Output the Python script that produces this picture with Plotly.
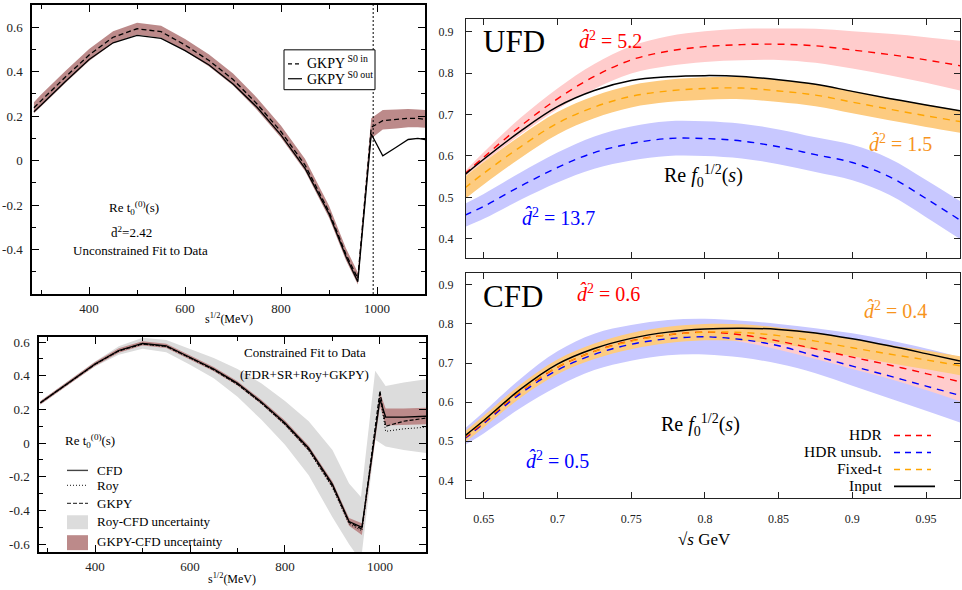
import plotly.graph_objects as go

W, H = 962, 590

# ---------------- Re t_0^(0)(s): unconstrained fit (GKPY S0 wave in / out) ----------------
tl_x = [285, 300, 350, 400, 450, 500, 550, 600, 650, 700, 750, 800, 850, 900, 935, 960,
        988, 1012, 1040, 1065, 1085, 1100]
tl_s0_in = [0.238, 0.27, 0.375, 0.475, 0.555, 0.593, 0.58, 0.52, 0.45, 0.365, 0.255, 0.13,
            -0.02, -0.23, -0.42, -0.53, 0.15, 0.18, 0.185, 0.19, 0.19, 0.185]
tl_s0_out = [0.22, 0.25, 0.355, 0.455, 0.53, 0.563, 0.55, 0.495, 0.43, 0.345, 0.24, 0.115,
             -0.035, -0.24, -0.43, -0.545, 0.12, 0.022, 0.06, 0.095, 0.10, 0.095]
tl_band_hi = [0.262, 0.297, 0.402, 0.502, 0.582, 0.62, 0.607, 0.547, 0.477, 0.392, 0.282, 0.157,
              0.007, -0.203, -0.393, -0.503, 0.19, 0.228, 0.23, 0.232, 0.23, 0.228]
tl_band_lo = [0.213, 0.243, 0.348, 0.448, 0.528, 0.566, 0.553, 0.493, 0.423, 0.338, 0.228, 0.103,
              -0.047, -0.257, -0.447, -0.557, 0.1, 0.14, 0.145, 0.15, 0.15, 0.148]
kk_threshold = 992  # 2 m_K in MeV

# ---------------- Re t_0^(0)(s): constrained fit ----------------
bl_x = [285, 300, 350, 400, 450, 500, 550, 600, 650, 700, 750, 800, 850, 900, 935, 962,
        1000, 1012, 1050, 1100]
bl_cfd = [0.24, 0.27, 0.37, 0.47, 0.55, 0.592, 0.578, 0.51, 0.44, 0.355, 0.245, 0.12,
          -0.03, -0.245, -0.465, -0.50, 0.26, 0.155, 0.155, 0.16]
bl_roy = [0.24, 0.268, 0.368, 0.467, 0.547, 0.588, 0.573, 0.505, 0.434, 0.347, 0.236, 0.108,
          -0.045, -0.265, -0.48, -0.52, 0.285, 0.07, 0.085, 0.095]
bl_gkpy = [0.24, 0.269, 0.369, 0.468, 0.548, 0.589, 0.575, 0.507, 0.436, 0.35, 0.24, 0.114,
           -0.038, -0.255, -0.47, -0.51, 0.31, 0.10, 0.13, 0.15]
bl_gkpy_hi = [0.25, 0.28, 0.38, 0.482, 0.563, 0.605, 0.59, 0.522, 0.452, 0.367, 0.258, 0.134,
              -0.015, -0.228, -0.445, -0.475, 0.3, 0.205, 0.205, 0.21]
bl_gkpy_lo = [0.23, 0.26, 0.36, 0.458, 0.537, 0.579, 0.565, 0.497, 0.427, 0.342, 0.232, 0.105,
              -0.047, -0.265, -0.49, -0.545, 0.22, 0.105, 0.108, 0.112]
bl_roy_band_x = [285, 300, 350, 400, 450, 500, 550, 600, 650, 700, 750, 800, 850, 900, 935, 960,
                 990, 1012, 1050, 1100]
bl_roy_hi = [0.25, 0.28, 0.38, 0.485, 0.575, 0.625, 0.612, 0.56, 0.505, 0.44, 0.355, 0.25,
             0.13, -0.04, -0.24, -0.32, 0.43, 0.34, 0.36, 0.38]
bl_roy_lo = [0.23, 0.258, 0.358, 0.455, 0.525, 0.56, 0.54, 0.465, 0.385, 0.275, 0.14, -0.01,
             -0.19, -0.44, -0.6, -0.70, 0.02, -0.02, -0.04, -0.06]

# ---------------- Re f_0^{1/2}(s), sqrt(s) in GeV ----------------
rs = [0.637, 0.65, 0.675, 0.70, 0.725, 0.75, 0.775, 0.80, 0.825, 0.85, 0.875, 0.90, 0.925, 0.95, 0.973]

# UFD
ufd_input = [0.554, 0.592, 0.660, 0.719, 0.758, 0.782, 0.791, 0.794, 0.792, 0.784, 0.773, 0.756, 0.739, 0.723, 0.709]
ufd_fixt = [0.522, 0.558, 0.622, 0.679, 0.718, 0.744, 0.757, 0.763, 0.764, 0.757, 0.747, 0.730, 0.713, 0.697, 0.683]
ufd_fixt_hi = [0.549, 0.585, 0.649, 0.706, 0.745, 0.771, 0.784, 0.790, 0.791, 0.784, 0.774, 0.757, 0.740, 0.724, 0.710]
ufd_fixt_lo = [0.495, 0.531, 0.595, 0.652, 0.691, 0.717, 0.730, 0.736, 0.737, 0.730, 0.720, 0.703, 0.686, 0.670, 0.656]
ufd_hdr = [0.556, 0.597, 0.672, 0.738, 0.792, 0.832, 0.853, 0.864, 0.869, 0.870, 0.866, 0.856, 0.845, 0.832, 0.818]
ufd_hdr_hi = [0.562, 0.609, 0.692, 0.763, 0.822, 0.865, 0.889, 0.901, 0.907, 0.908, 0.907, 0.901, 0.895, 0.887, 0.878]
ufd_hdr_lo = [0.550, 0.585, 0.652, 0.713, 0.762, 0.799, 0.817, 0.827, 0.831, 0.832, 0.825, 0.811, 0.795, 0.777, 0.758]
ufd_uns = [0.456, 0.478, 0.527, 0.572, 0.608, 0.630, 0.642, 0.642, 0.636, 0.622, 0.603, 0.584, 0.550, 0.497, 0.445]
ufd_uns_hi = [0.484, 0.508, 0.560, 0.608, 0.647, 0.671, 0.684, 0.684, 0.678, 0.664, 0.645, 0.627, 0.594, 0.542, 0.491]
ufd_uns_lo = [0.428, 0.448, 0.494, 0.536, 0.569, 0.589, 0.600, 0.600, 0.594, 0.580, 0.561, 0.541, 0.506, 0.452, 0.399]

# CFD
cfd_input = [0.513, 0.553, 0.633, 0.697, 0.737, 0.763, 0.779, 0.787, 0.789, 0.786, 0.777, 0.762, 0.744, 0.724, 0.705]
cfd_fixt = [0.510, 0.550, 0.628, 0.690, 0.730, 0.756, 0.772, 0.779, 0.778, 0.770, 0.756, 0.739, 0.723, 0.708, 0.693]
cfd_fixt_hi = [0.524, 0.565, 0.645, 0.709, 0.750, 0.777, 0.793, 0.800, 0.799, 0.791, 0.778, 0.761, 0.746, 0.732, 0.717]
cfd_fixt_lo = [0.496, 0.535, 0.611, 0.671, 0.710, 0.735, 0.751, 0.758, 0.757, 0.749, 0.734, 0.717, 0.700, 0.684, 0.669]
cfd_hdr = [0.508, 0.548, 0.627, 0.689, 0.730, 0.757, 0.772, 0.779, 0.772, 0.756, 0.736, 0.715, 0.695, 0.673, 0.652]
cfd_hdr_hi = [0.516, 0.557, 0.637, 0.700, 0.742, 0.770, 0.786, 0.794, 0.790, 0.778, 0.762, 0.745, 0.730, 0.715, 0.702]
cfd_hdr_lo = [0.500, 0.539, 0.617, 0.678, 0.718, 0.744, 0.758, 0.764, 0.754, 0.734, 0.710, 0.685, 0.660, 0.631, 0.602]
cfd_uns = [0.506, 0.545, 0.622, 0.682, 0.722, 0.748, 0.762, 0.767, 0.760, 0.744, 0.718, 0.692, 0.667, 0.641, 0.617]
cfd_uns_hi = [0.532, 0.575, 0.660, 0.730, 0.775, 0.797, 0.810, 0.813, 0.808, 0.800, 0.789, 0.776, 0.758, 0.737, 0.715]
cfd_uns_lo = [0.490, 0.520, 0.585, 0.640, 0.682, 0.706, 0.720, 0.722, 0.714, 0.698, 0.674, 0.642, 0.610, 0.578, 0.548]

# ---------------- styling ----------------
SERIF = "Liberation Serif"
BROWN = "#bc8a8a"
GREY = "#dcdcdc"
PINK = "#ffcccc"
ORANGE_BAND = "#fdcb80"
BLUE_BAND = "#c8c8ff"
RED = "#ff0000"
BLUE = "#0000ff"
ORANGE = "#ffa500"
ORANGE_TXT = "#f7941d"

fig = go.Figure()


def band(x, lo, hi, color, xa, ya, shape="linear"):
    fig.add_trace(go.Scatter(x=x, y=lo, mode="lines", line=dict(width=0, shape=shape),
                             xaxis=xa, yaxis=ya, showlegend=False, hoverinfo="skip"))
    fig.add_trace(go.Scatter(x=x, y=hi, mode="lines", line=dict(width=0, shape=shape),
                             fill="tonexty", fillcolor=color, xaxis=xa, yaxis=ya,
                             showlegend=False, hoverinfo="skip"))


def curve(x, y, color, dash, width, xa, ya, shape="linear"):
    fig.add_trace(go.Scatter(x=x, y=y, mode="lines",
                             line=dict(color=color, dash=dash, width=width, shape=shape),
                             xaxis=xa, yaxis=ya, showlegend=False, hoverinfo="skip"))


# top-left
band(tl_x, tl_band_lo, tl_band_hi, BROWN, "x", "y")
curve(tl_x, tl_s0_out, "black", "solid", 1.3, "x", "y")
curve(tl_x, tl_s0_in, "black", "5px,3px", 1.3, "x", "y")

# bottom-left
band(bl_roy_band_x, bl_roy_lo, bl_roy_hi, GREY, "x2", "y2")
band(bl_x, bl_gkpy_lo, bl_gkpy_hi, BROWN, "x2", "y2")
curve(bl_x, bl_roy, "black", "1px,2px", 1.0, "x2", "y2")
curve(bl_x, bl_gkpy, "black", "4px,2px", 1.2, "x2", "y2")
curve(bl_x, bl_cfd, "black", "solid", 1.3, "x2", "y2")

# top-right (UFD)
band(rs, ufd_hdr_lo, ufd_hdr_hi, PINK, "x3", "y3", "spline")
band(rs, ufd_fixt_lo, ufd_fixt_hi, ORANGE_BAND, "x3", "y3", "spline")
band(rs, ufd_uns_lo, ufd_uns_hi, BLUE_BAND, "x3", "y3", "spline")
curve(rs, ufd_hdr, RED, "7px,6px", 1.4, "x3", "y3", "spline")
curve(rs, ufd_fixt, ORANGE, "7px,6px", 1.4, "x3", "y3", "spline")
curve(rs, ufd_uns, BLUE, "7px,6px", 1.4, "x3", "y3", "spline")
curve(rs, ufd_input, "black", "solid", 1.5, "x3", "y3", "spline")

# bottom-right (CFD)
band(rs, cfd_uns_lo, cfd_uns_hi, BLUE_BAND, "x4", "y4", "spline")
band(rs, cfd_hdr_lo, cfd_hdr_hi, PINK, "x4", "y4", "spline")
band(rs, cfd_fixt_lo, cfd_fixt_hi, ORANGE_BAND, "x4", "y4", "spline")
curve(rs, cfd_uns, BLUE, "7px,6px", 1.4, "x4", "y4", "spline")
curve(rs, cfd_hdr, RED, "7px,6px", 1.4, "x4", "y4", "spline")
curve(rs, cfd_fixt, ORANGE, "7px,6px", 1.4, "x4", "y4", "spline")
curve(rs, cfd_input, "black", "solid", 1.5, "x4", "y4", "spline")


def dom_x(a, b):
    return [a / W, b / W]


def dom_y(top, bottom):
    return [1 - bottom / H, 1 - top / H]


left_tick_font = dict(family=SERIF, size=13, color="#222")
right_tick_font = dict(family=SERIF, size=12, color="#222")

left_common = dict(showgrid=False, zeroline=False, showline=True, linecolor="black",
                   linewidth=1.5, mirror="allticks", ticks="inside", ticklen=7,
                   tickcolor="black", tickwidth=1, tickfont=left_tick_font)
right_common = dict(showgrid=False, zeroline=False, showline=True, linecolor="#222",
                    linewidth=1.1, mirror="allticks", ticks="inside", ticklen=6,
                    tickcolor="#222", tickwidth=1, tickfont=right_tick_font)

tl_yticks = [-0.4, -0.2, 0, 0.2, 0.4, 0.6]
bl_yticks = [-0.6, -0.4, -0.2, 0, 0.2, 0.4, 0.6]
mev_ticks = [400, 600, 800, 1000]
gev_ticks = [0.65, 0.70, 0.75, 0.80, 0.85, 0.90, 0.95]
f_ticks = [0.4, 0.5, 0.6, 0.7, 0.8, 0.9]


def num(v):
    return "%g" % v


fig.update_layout(
    width=W, height=H, margin=dict(l=0, r=0, t=0, b=0),
    paper_bgcolor="white", plot_bgcolor="white", showlegend=False,
    xaxis=dict(domain=dom_x(32, 425), range=[281, 1100], anchor="y",
               tickvals=mev_ticks, ticktext=[str(v) for v in mev_ticks],
               minor=dict(tickvals=[300, 500, 700, 900, 1100], ticklen=4, ticks="inside",
                          tickcolor="black"),
               ticklabelstandoff=2, **left_common),
    yaxis=dict(domain=dom_y(3, 293), range=[-0.6, 0.7], anchor="x",
               tickvals=tl_yticks, ticktext=[num(v) for v in tl_yticks],
               minor=dict(tickvals=[-0.5, -0.3, -0.1, 0.1, 0.3, 0.5], ticklen=4, ticks="inside",
                          tickcolor="black"),
               ticklabelstandoff=5, **left_common),
    xaxis2=dict(domain=dom_x(39, 426), range=[282, 1097], anchor="y2",
                tickvals=mev_ticks, ticktext=[str(v) for v in mev_ticks],
                minor=dict(tickvals=[300, 500, 700, 900], ticklen=4, ticks="inside",
                           tickcolor="black"),
                ticklabelstandoff=2, **left_common),
    yaxis2=dict(domain=dom_y(336, 552), range=[-0.647, 0.631], anchor="x2",
                tickvals=bl_yticks, ticktext=[num(v) for v in bl_yticks],
                minor=dict(tickvals=[-0.5, -0.3, -0.1, 0.1, 0.3, 0.5], ticklen=4, ticks="inside",
                           tickcolor="black"),
                ticklabelstandoff=5, **left_common),
    xaxis3=dict(domain=dom_x(466, 960), range=[0.638, 0.973], anchor="y3",
                tickvals=gev_ticks, showticklabels=False, **right_common),
    yaxis3=dict(domain=dom_y(17, 257), range=[0.353, 0.931], anchor="x3",
                tickvals=f_ticks, ticktext=[num(v) for v in f_ticks],
                ticklabelstandoff=9, **right_common),
    xaxis4=dict(domain=dom_x(466, 960), range=[0.638, 0.973], anchor="y4",
                tickvals=gev_ticks, ticktext=[num(v) for v in gev_ticks],
                ticklabelstandoff=9, **right_common),
    yaxis4=dict(domain=dom_y(272, 498), range=[0.354, 0.930], anchor="x4",
                tickvals=f_ticks, ticktext=[num(v) for v in f_ticks],
                ticklabelstandoff=9, **right_common),
)

# threshold marker in the unconstrained panel
fig.add_shape(type="line", xref="x", yref="y domain", x0=kk_threshold, x1=kk_threshold,
              y0=0, y1=1, line=dict(color="black", width=1, dash="2px,2px"))

annotations = []
shapes = []


def text(s, x, y, size, color="black", anchor="center", family=SERIF):
    annotations.append(dict(text=s, x=x / W, y=1 - y / H, xref="paper", yref="paper",
                            xanchor=anchor, yanchor="middle", showarrow=False,
                            font=dict(family=family, size=size, color=color)))


def hline(x0, x1, y, color, dash="solid", width=1.3):
    shapes.append(dict(type="line", xref="paper", yref="paper", x0=x0 / W, x1=x1 / W,
                       y0=1 - y / H, y1=1 - y / H, line=dict(color=color, width=width, dash=dash)))


def rect(x0, y0, x1, y1, fill, line_color=None):
    shapes.append(dict(type="rect", xref="paper", yref="paper", x0=x0 / W, x1=x1 / W,
                       y0=1 - y1 / H, y1=1 - y0 / H, fillcolor=fill,
                       line=dict(width=1 if line_color else 0, color=line_color or fill)))


# top-left texts and key
text("Re t<sub>0</sub><sup>(0)</sup>(s)", 134, 207, 13)
text("d\u0304<sup>2</sup>=2.42", 131, 231, 13)
text("Unconstrained Fit to Data", 140, 249, 13)
text("s<sup>1/2</sup>(MeV)", 229, 318, 12)
rect(284, 48, 375, 88, "white", "black")
hline(288, 302, 62, "black", "4px,3px", 1.2)
hline(288, 302, 77, "black", "solid", 1.2)
text("GKPY<sup> S0 in</sup>", 305, 60, 14, anchor="left")
text("GKPY<sup> S0 out</sup>", 305, 76, 14, anchor="left")

# bottom-left texts and key
text("Constrained Fit to Data", 305, 352, 13)
text("(FDR+SR+Roy+GKPY)", 304, 374, 13)
text("Re t<sub>0</sub><sup>(0)</sup>(s)", 90, 440, 13)
text("s<sup>1/2</sup>(MeV)", 232, 578, 12)
hline(67, 88, 470, "#444", "solid", 1.4)
hline(67, 88, 485, "#444", "1px,2px", 1.2)
hline(67, 88, 503, "#444", "4px,2px", 1.3)
rect(67, 515, 88, 529, GREY)
rect(67, 535, 88, 550, BROWN)
text("CFD", 95, 470, 13, anchor="left")
text("Roy", 95, 485, 13, anchor="left")
text("GKPY", 95, 503, 13, anchor="left")
text("Roy-CFD uncertainty", 95, 521, 13, anchor="left")
text("GKPY-CFD uncertainty", 95, 541, 13, anchor="left")

# UFD panel labels
DHAT = "<i>d\u0302</i><sup>2</sup>"
REF = "Re <i>f</i><sub>0</sub><sup>1/2</sup>(<i>s</i>)"
text("UFD", 514, 40, 31)
text(DHAT + " = 5.2", 610, 38, 20, RED)
text(REF, 703, 175, 20)
text(DHAT + " = 13.7", 558, 216, 20, BLUE)
text(DHAT + " = 1.5", 900, 141, 20, ORANGE_TXT)

# CFD panel labels and key
text("CFD", 513, 296, 31)
text(DHAT + " = 0.6", 608, 292, 20, RED)
text(DHAT + " = 0.4", 895, 309, 20, ORANGE_TXT)
text(REF, 700, 424, 20)
text(DHAT + " = 0.5", 557, 460, 20, BLUE)
text("HDR", 884, 434, 15.5, anchor="right")
text("HDR unsub.", 884, 451, 15.5, anchor="right")
text("Fixed-t", 884, 468, 15.5, anchor="right")
text("Input", 884, 485, 15.5, anchor="right")
hline(894, 931, 435, RED, "6px,5px", 1.5)
hline(894, 931, 452, BLUE, "6px,5px", 1.5)
hline(894, 931, 469, ORANGE, "6px,5px", 1.5)
hline(894, 935, 486, "black", "solid", 1.6)
text("\u221a<i>s</i> GeV", 704, 539, 17)

fig.update_layout(annotations=annotations)
for s in shapes:
    fig.add_shape(**s)

fig.write_html("out.html")
